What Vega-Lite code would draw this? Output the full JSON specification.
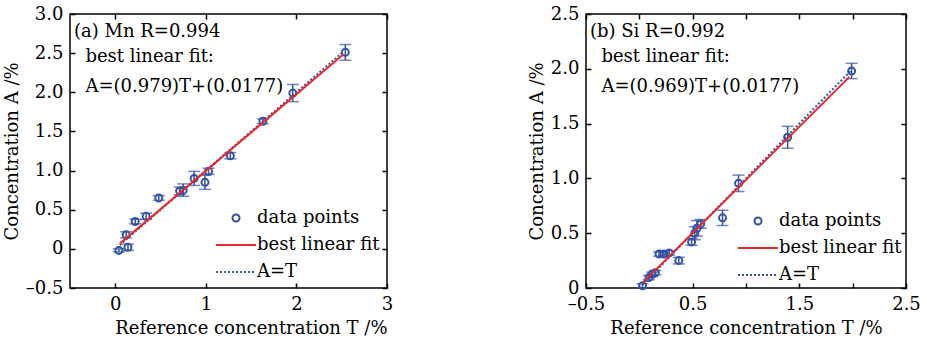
{
  "$schema": "https://vega.github.io/schema/vega-lite/v6.json",
  "background": "white",
  "padding": {"left": 2, "top": 4, "right": 5, "bottom": 5},
  "spacing": 133,
  "resolve": {"scale": {"color": "independent", "shape": "independent"}, "legend": {"color": "independent", "shape": "independent"}},
  "datasets": {
    "mn_points": [
      {"T": 0.04, "A": -0.02, "lo": -0.04, "hi": 0.0, "series": "data points"},
      {"T": 0.14, "A": 0.02, "lo": -0.02, "hi": 0.06, "series": "data points"},
      {"T": 0.12, "A": 0.18, "lo": 0.14, "hi": 0.22, "series": "data points"},
      {"T": 0.22, "A": 0.35, "lo": 0.32, "hi": 0.38, "series": "data points"},
      {"T": 0.34, "A": 0.415, "lo": 0.375, "hi": 0.455, "series": "data points"},
      {"T": 0.48, "A": 0.65, "lo": 0.62, "hi": 0.68, "series": "data points"},
      {"T": 0.71, "A": 0.74, "lo": 0.69, "hi": 0.79, "series": "data points"},
      {"T": 0.75, "A": 0.75, "lo": 0.67, "hi": 0.83, "series": "data points"},
      {"T": 0.87, "A": 0.9, "lo": 0.81, "hi": 0.99, "series": "data points"},
      {"T": 0.99, "A": 0.85, "lo": 0.76, "hi": 0.94, "series": "data points"},
      {"T": 1.03, "A": 0.99, "lo": 0.95, "hi": 1.03, "series": "data points"},
      {"T": 1.27, "A": 1.19, "lo": 1.15, "hi": 1.23, "series": "data points"},
      {"T": 1.63, "A": 1.63, "lo": 1.6, "hi": 1.66, "series": "data points"},
      {"T": 1.96, "A": 1.99, "lo": 1.88, "hi": 2.1, "series": "data points"},
      {"T": 2.54, "A": 2.51, "lo": 2.41, "hi": 2.61, "series": "data points"}
    ],
    "mn_fit": [{"T": 0.05, "A": 0.0667}, {"T": 2.52, "A": 2.4848}],
    "mn_ident": [{"T": 0.05, "A": 0.05}, {"T": 2.52, "A": 2.52}],
    "si_points": [
      {"T": 0.03, "A": 0.02, "lo": 0.0, "hi": 0.04, "series": "data points"},
      {"T": 0.09, "A": 0.095, "lo": 0.075, "hi": 0.115, "series": "data points"},
      {"T": 0.12, "A": 0.125, "lo": 0.105, "hi": 0.145, "series": "data points"},
      {"T": 0.15, "A": 0.14, "lo": 0.12, "hi": 0.16, "series": "data points"},
      {"T": 0.185, "A": 0.31, "lo": 0.29, "hi": 0.33, "series": "data points"},
      {"T": 0.23, "A": 0.31, "lo": 0.29, "hi": 0.33, "series": "data points"},
      {"T": 0.28, "A": 0.32, "lo": 0.3, "hi": 0.34, "series": "data points"},
      {"T": 0.37, "A": 0.25, "lo": 0.22, "hi": 0.28, "series": "data points"},
      {"T": 0.49, "A": 0.42, "lo": 0.39, "hi": 0.45, "series": "data points"},
      {"T": 0.52, "A": 0.5, "lo": 0.44, "hi": 0.56, "series": "data points"},
      {"T": 0.54, "A": 0.545, "lo": 0.475, "hi": 0.615, "series": "data points"},
      {"T": 0.575, "A": 0.585, "lo": 0.545, "hi": 0.625, "series": "data points"},
      {"T": 0.78, "A": 0.64, "lo": 0.57, "hi": 0.71, "series": "data points"},
      {"T": 0.93, "A": 0.955, "lo": 0.88, "hi": 1.03, "series": "data points"},
      {"T": 1.39, "A": 1.375, "lo": 1.275, "hi": 1.475, "series": "data points"},
      {"T": 1.99, "A": 1.98, "lo": 1.91, "hi": 2.05, "series": "data points"}
    ],
    "si_fit": [{"T": 0.03, "A": 0.0468}, {"T": 1.97, "A": 1.9266}],
    "si_ident": [{"T": 0.03, "A": 0.03}, {"T": 1.99, "A": 1.99}]
  },
  "hconcat": [
    {
      "width": 317,
      "height": 274,
      "title": {
        "text": "(a) Mn R=0.994",
        "subtitle": ["\u200b\u00a0\u00a0best linear fit:", "\u200b\u00a0\u00a0A=(0.979)T+(0.0177)"],
        "anchor": "start", "frame": "group", "orient": "top", "offset": -91, "dx": 4,
        "font": "DejaVu Serif", "fontSize": 18, "fontWeight": "normal", "color": "black",
        "subtitleFont": "DejaVu Serif", "subtitleFontSize": 18, "subtitleColor": "black",
        "subtitlePadding": 7, "subtitleLineHeight": 30
      },
      "layer": [
        {
          "data": {"name": "mn_points"},
          "mark": {"type": "errorbar", "color": "#3352a6", "thickness": 1.5, "ticks": {"size": 12, "thickness": 1.5, "color": "#3352a6"}},
          "encoding": {
            "x": {"field": "T", "type": "quantitative", "scale": {"domain": [-0.5, 3], "nice": false, "zero": false},
              "axis": {"orient": "bottom", "values": [0, 1, 2, 3], "title": "Reference concentration T /%", "titleAnchor": "end", "labelExpr": "format(datum.value, 'd')"}},
            "y": {"field": "lo", "type": "quantitative", "scale": {"domain": [-0.5, 3], "nice": false, "zero": false},
              "axis": {"orient": "left", "values": [-0.5, 0, 0.5, 1, 1.5, 2, 2.5, 3], "title": "Concentration A /%", "titlePadding": 4, "labelExpr": "datum.value == 0 ? '0' : (datum.value < 0 ? '\u2013' + format(-datum.value, '.1f') : format(datum.value, '.1f'))"}},
            "y2": {"field": "hi"}
          }
        },
        {
          "data": {"name": "mn_points"},
          "mark": {"type": "point", "filled": false, "size": 100, "strokeWidth": 2, "opacity": 1},
          "encoding": {
            "x": {"field": "T", "type": "quantitative", "scale": {"domain": [-0.5, 3], "nice": false, "zero": false},
              "axis": {"orient": "top", "values": [0, 1, 2, 3], "labels": false, "title": null}},
            "y": {"field": "A", "type": "quantitative", "scale": {"domain": [-0.5, 3], "nice": false, "zero": false},
              "axis": {"orient": "right", "values": [-0.5, 0, 0.5, 1, 1.5, 2, 2.5, 3], "labels": false, "title": null}},
            "color": {"field": "series", "type": "nominal",
              "scale": {"domain": ["data points", "best linear fit", "A=T"], "range": ["#3352a6", "#e62b2b", "#3352a6"]},
              "legend": {"title": null, "orient": "bottom-right", "offset": 7, "symbolSize": 100, "symbolStrokeWidth": 2, "labelOffset": 12, "rowPadding": 9, "labelFont": "DejaVu Serif", "labelFontSize": 18, "labelColor": "black", "labelLimit": 300}},
            "shape": {"field": "series", "type": "nominal",
              "scale": {"domain": ["data points", "best linear fit", "A=T"], "range": ["M-0.7,0A0.7,0.7 0 1,0 0.7,0A0.7,0.7 0 1,0 -0.7,0", "M-4,0H4", "M-4,0H-3.6M-3.2,0H-2.8M-2.4,0H-2M-1.6,0H-1.2M-0.8,0H-0.4M0,0H0.4M0.8,0H1.2M1.6,0H2M2.4,0H2.8M3.2,0H3.6"]},
              "legend": {"title": null, "orient": "bottom-right", "offset": 7, "symbolSize": 100, "symbolStrokeWidth": 2, "labelOffset": 12, "rowPadding": 9, "labelFont": "DejaVu Serif", "labelFontSize": 18, "labelColor": "black", "labelLimit": 300}}
          }
        },
        {
          "data": {"name": "mn_ident"},
          "mark": {"type": "line", "color": "#3352a6", "strokeDash": [2, 2], "strokeWidth": 2},
          "encoding": {
            "x": {"field": "T", "type": "quantitative", "scale": {"domain": [-0.5, 3], "nice": false, "zero": false}, "axis": null},
            "y": {"field": "A", "type": "quantitative", "scale": {"domain": [-0.5, 3], "nice": false, "zero": false}, "axis": null}
          }
        },
        {
          "data": {"name": "mn_fit"},
          "mark": {"type": "line", "color": "#e62b2b", "strokeWidth": 2},
          "encoding": {
            "x": {"field": "T", "type": "quantitative", "scale": {"domain": [-0.5, 3], "nice": false, "zero": false}, "axis": null},
            "y": {"field": "A", "type": "quantitative", "scale": {"domain": [-0.5, 3], "nice": false, "zero": false}, "axis": null}
          }
        }
      ],
      "resolve": {"axis": {"x": "independent", "y": "independent"}}
    },
    {
      "width": 320,
      "height": 274,
      "title": {
        "text": "(b) Si R=0.992",
        "subtitle": ["\u200b\u00a0\u00a0best linear fit:", "\u200b\u00a0\u00a0A=(0.969)T+(0.0177)"],
        "anchor": "start", "frame": "group", "orient": "top", "offset": -91, "dx": 4,
        "font": "DejaVu Serif", "fontSize": 18, "fontWeight": "normal", "color": "black",
        "subtitleFont": "DejaVu Serif", "subtitleFontSize": 18, "subtitleColor": "black",
        "subtitlePadding": 7, "subtitleLineHeight": 30
      },
      "layer": [
        {
          "data": {"name": "si_points"},
          "mark": {"type": "errorbar", "color": "#3352a6", "thickness": 1.5, "ticks": {"size": 12, "thickness": 1.5, "color": "#3352a6"}},
          "encoding": {
            "x": {"field": "T", "type": "quantitative", "scale": {"domain": [-0.5, 2.5], "nice": false, "zero": false},
              "axis": {"orient": "bottom", "values": [-0.5, 0, 0.5, 1, 1.5, 2, 2.5], "title": "Reference concentration T /%", "titleAnchor": "middle", "labelExpr": "abs(round(datum.value * 2)) % 2 == 1 ? (datum.value < 0 ? '\u2013' + format(-datum.value, '.1f') : format(datum.value, '.1f')) : ''"}},
            "y": {"field": "lo", "type": "quantitative", "scale": {"domain": [0, 2.5], "nice": false, "zero": false},
              "axis": {"orient": "left", "values": [0, 0.5, 1, 1.5, 2, 2.5], "title": "Concentration A /%", "titlePadding": 4, "labelExpr": "datum.value == 0 ? '0' : format(datum.value, '.1f')"}},
            "y2": {"field": "hi"}
          }
        },
        {
          "data": {"name": "si_points"},
          "mark": {"type": "point", "filled": false, "size": 100, "strokeWidth": 2, "opacity": 1},
          "encoding": {
            "x": {"field": "T", "type": "quantitative", "scale": {"domain": [-0.5, 2.5], "nice": false, "zero": false},
              "axis": {"orient": "top", "values": [-0.5, 0, 0.5, 1, 1.5, 2, 2.5], "labels": false, "title": null}},
            "y": {"field": "A", "type": "quantitative", "scale": {"domain": [0, 2.5], "nice": false, "zero": false},
              "axis": {"orient": "right", "values": [0, 0.5, 1, 1.5, 2, 2.5], "labels": false, "title": null}},
            "color": {"field": "series", "type": "nominal",
              "scale": {"domain": ["data points", "best linear fit", "A=T"], "range": ["#3352a6", "#e62b2b", "#3352a6"]},
              "legend": {"title": null, "orient": "bottom-right", "offset": 4, "symbolSize": 100, "symbolStrokeWidth": 2, "labelOffset": 12, "rowPadding": 9, "labelFont": "DejaVu Serif", "labelFontSize": 18, "labelColor": "black", "labelLimit": 300}},
            "shape": {"field": "series", "type": "nominal",
              "scale": {"domain": ["data points", "best linear fit", "A=T"], "range": ["M-0.7,0A0.7,0.7 0 1,0 0.7,0A0.7,0.7 0 1,0 -0.7,0", "M-4,0H4", "M-4,0H-3.6M-3.2,0H-2.8M-2.4,0H-2M-1.6,0H-1.2M-0.8,0H-0.4M0,0H0.4M0.8,0H1.2M1.6,0H2M2.4,0H2.8M3.2,0H3.6"]},
              "legend": {"title": null, "orient": "bottom-right", "offset": 4, "symbolSize": 100, "symbolStrokeWidth": 2, "labelOffset": 12, "rowPadding": 9, "labelFont": "DejaVu Serif", "labelFontSize": 18, "labelColor": "black", "labelLimit": 300}}
          }
        },
        {
          "data": {"name": "si_ident"},
          "mark": {"type": "line", "color": "#3352a6", "strokeDash": [2, 2], "strokeWidth": 2},
          "encoding": {
            "x": {"field": "T", "type": "quantitative", "scale": {"domain": [-0.5, 2.5], "nice": false, "zero": false}, "axis": null},
            "y": {"field": "A", "type": "quantitative", "scale": {"domain": [0, 2.5], "nice": false, "zero": false}, "axis": null}
          }
        },
        {
          "data": {"name": "si_fit"},
          "mark": {"type": "line", "color": "#e62b2b", "strokeWidth": 2},
          "encoding": {
            "x": {"field": "T", "type": "quantitative", "scale": {"domain": [-0.5, 2.5], "nice": false, "zero": false}, "axis": null},
            "y": {"field": "A", "type": "quantitative", "scale": {"domain": [0, 2.5], "nice": false, "zero": false}, "axis": null}
          }
        }
      ],
      "resolve": {"axis": {"x": "independent", "y": "independent"}}
    }
  ],
  "config": {
    "view": {"stroke": "black", "strokeWidth": 1.5},
    "axis": {
      "grid": false, "domain": false, "ticks": true, "tickSize": -5, "tickColor": "black", "tickWidth": 1.5,
      "labelFont": "DejaVu Serif", "labelFontSize": 18, "labelColor": "black", "labelPadding": 12,
      "labelFlush": false, "labelOverlap": false, "labelBound": false,
      "titleFont": "DejaVu Serif", "titleFontSize": 18, "titleFontWeight": "normal", "titleColor": "black", "titlePadding": 6
    }
  }
}
